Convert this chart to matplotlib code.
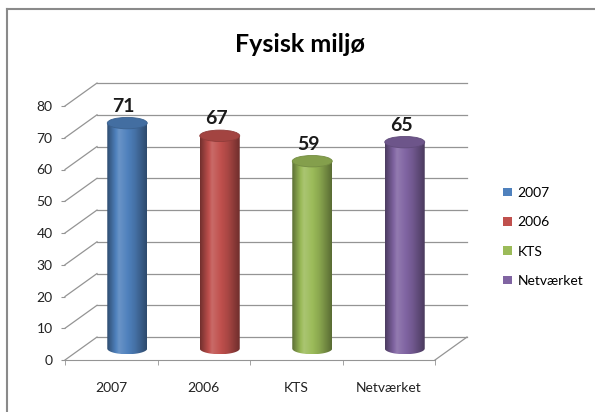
import numpy as np
import matplotlib.pyplot as plt
from matplotlib.patches import Ellipse, PathPatch, Patch
from matplotlib.path import Path
from matplotlib.lines import Line2D
from matplotlib.colors import to_rgb

plt.rcParams['font.family'] = ['Lato', 'DejaVu Sans']

# data
categories = ['2007', '2006', 'KTS', 'Netværket']
values = [71, 67, 59, 65]
colors = ['#4f81bd', '#c0504d', '#9bbb59', '#8064a2']
yticks = [0, 10, 20, 30, 40, 50, 60, 70, 80]

grid_col = '#949494'
depth_x = 0.346   # depth offset of the back wall, in category units
depth_y = 7.23    # depth offset of the back wall, in value units
radius = 0.216    # cylinder radius, category units
ry = 1.8          # half height of cylinder ellipses, value units

fig = plt.figure(figsize=(5.95, 4.12), dpi=100)
ax = fig.add_axes([65 / 595, 1 - 360 / 412, 370 / 595, 254 / 412])
ax.set_xlim(-0.5, len(categories) - 0.5)
ax.set_ylim(0, 80)
for s in ['top', 'right', 'left']:
    ax.spines[s].set_visible(False)
ax.spines['bottom'].set_color(grid_col)
ax.patch.set_alpha(0)

# walls: side wall diagonals and back wall horizontals
x0, x1 = -0.5, len(categories) - 0.5
for v in yticks:
    ax.plot([x0, x0 + depth_x], [v, v + depth_y], color=grid_col, lw=0.9, clip_on=False, zorder=1)
    ax.plot([x0 + depth_x, x1 + depth_x], [v + depth_y, v + depth_y], color=grid_col, lw=0.9,
            clip_on=False, zorder=1)
ax.plot([x1, x1 + depth_x], [0, depth_y], color=grid_col, lw=0.9, clip_on=False, zorder=1)


def shade(c, f):
    c = np.array(to_rgb(c))
    if f < 1:
        return c * f
    return c + (1 - c) * (f - 1)


# cylinders
for i, (v, c) in enumerate(zip(values, colors)):
    cx = i + depth_x / 2
    yb = depth_y / 2
    yt = v + depth_y / 2
    t = np.linspace(np.pi, 2 * np.pi, 40)
    arc = np.column_stack([cx + radius * np.cos(t), yb + ry * np.sin(t)])
    verts = [(cx - radius, yt), (cx + radius, yt)] + [tuple(p) for p in arc[::-1]]
    verts.append((cx - radius, yt))
    body = PathPatch(Path(verts), facecolor='none', edgecolor='none', zorder=3)
    ax.add_patch(body)
    u = np.linspace(0, 1, 60)
    prof = np.interp(u, [0, 0.3, 0.7, 1], [0.6, 1.15, 0.88, 0.58])
    img = np.array([[shade(c, f) for f in prof]])
    im = ax.imshow(img, extent=[cx - radius, cx + radius, yb - ry, yt], aspect='auto',
                   interpolation='bilinear', zorder=3)
    im.set_clip_path(body)
    ax.add_patch(Ellipse((cx, yt), 2 * radius, 2 * ry, facecolor=shade(c, 0.85),
                         edgecolor=shade(c, 0.75), lw=0.6, zorder=4))
    ax.annotate(str(v), (cx - 0.04, yt + ry), xytext=(0, 2), textcoords='offset points',
                ha='center', va='bottom', fontsize=14, fontweight='bold', color='#1a1a1a')

ax.set_xlim(-0.5, len(categories) - 0.5)
ax.set_ylim(0, 80)
ax.set_xticks(np.arange(len(categories)))
ax.set_xticklabels(categories)
ax.set_xticks(np.arange(len(categories) + 1) - 0.5, minor=True)
ax.tick_params(axis='x', which='major', length=0, pad=16, labelsize=10, labelcolor='#222222')
ax.tick_params(axis='x', which='minor', length=3.5, color=grid_col)
ax.set_yticks(yticks)
ax.tick_params(axis='y', length=3, color=grid_col, pad=6, labelsize=10, labelcolor='#222222')

fig.text(0.504, 1 - 45 / 412, 'Fysisk miljø', ha='center', va='center', fontsize=18, fontweight='bold')

handles = [Patch(facecolor=c, edgecolor='none') for c in colors]
fig.legend(handles, categories, loc='center left', bbox_to_anchor=(0.825, 0.425), frameon=False,
           fontsize=10, labelspacing=1.25, handlelength=0.6, handleheight=0.6, handletextpad=0.4)

# chart border (top and left visible)
fig.add_artist(Line2D([7 / 595, 7 / 595], [0, 1 - 9 / 412], color='#8a8a8a', lw=1.5))
fig.add_artist(Line2D([7 / 595, 1], [1 - 9 / 412, 1 - 9 / 412], color='#8a8a8a', lw=1.5))

fig.savefig('out.png', dpi=100)
